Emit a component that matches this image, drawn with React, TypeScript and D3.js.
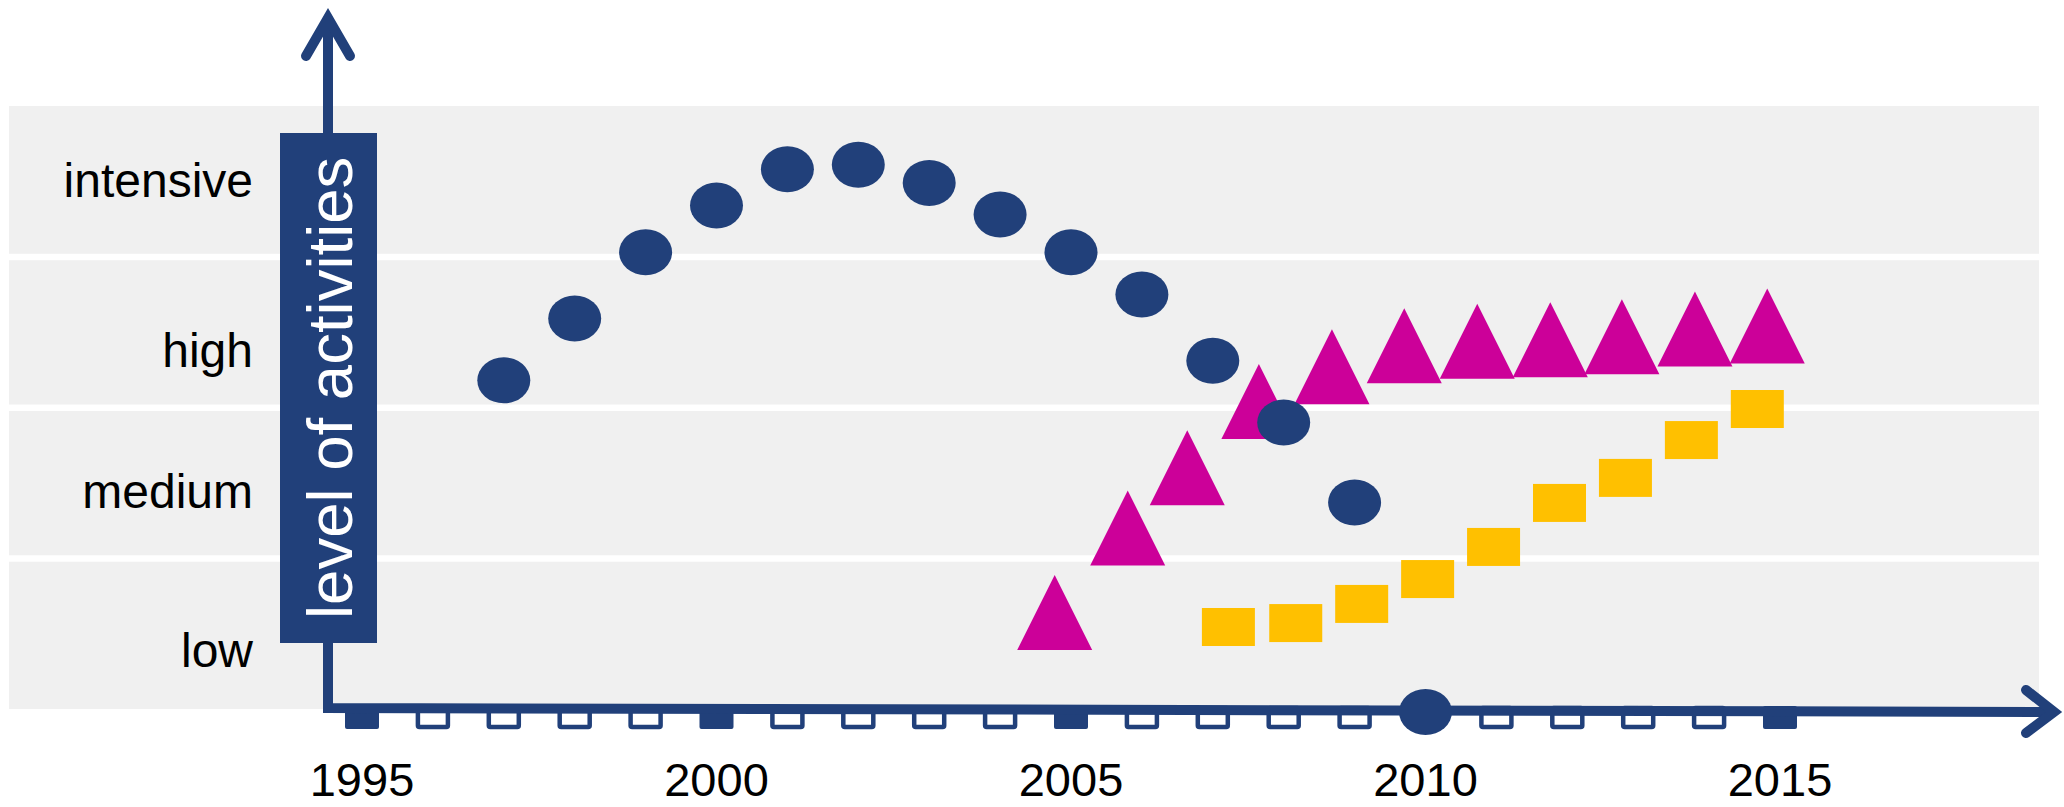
import React from "react";
import * as d3 from "d3";

// ---- data ----
const levelLabels = ["low", "medium", "high", "intensive"];
const yearTicks = [1995, 1996, 1997, 1998, 1999, 2000, 2001, 2002, 2003, 2004, 2005, 2006, 2007, 2008, 2009, 2010, 2011, 2012, 2013, 2014, 2015];
const majorYears = [1995, 2000, 2005, 2010, 2015];

const circleYears = [1997, 1998, 1999, 2000, 2001, 2002, 2003, 2004, 2005, 2006, 2007, 2008, 2009, 2010];
const circleValues = [2.18, 2.59, 3.03, 3.34, 3.58, 3.61, 3.49, 3.28, 3.03, 2.75, 2.31, 1.9, 1.37, -0.02];

const triangleYears = [2004.77, 2005.8, 2006.64, 2007.65, 2008.68, 2009.7, 2010.73, 2011.76, 2012.77, 2013.8, 2014.82];
const triangleValues = [0.64, 1.2, 1.6, 2.04, 2.27, 2.41, 2.44, 2.45, 2.47, 2.52, 2.54];

const squareYears = [2007.22, 2008.17, 2009.1, 2010.03, 2010.96, 2011.89, 2012.82, 2013.75, 2014.68];
const squareValues = [0.544, 0.57, 0.697, 0.862, 1.075, 1.367, 1.533, 1.784, 1.99];

const axisTitle = "level of activities";

// ---- layout / style ----
const W = 2064;
const H = 807;
const NAVY = "#21407A";
const MAGENTA = "#CC0099";
const YELLOW = "#FFC000";
const BAND = "#F0F0F0";
const FONT = "'Liberation Sans', Arial, sans-serif";
const labelDy = [33, 25, 35, 16];

export default function App() {
  const x = d3.scaleLinear().domain([1995, 2015]).range([362, 1780]);
  const y = d3.scaleLinear().domain([0, 4]).range([709, 106]);

  const bands = levelLabels.map((_, i) => {
    const top = y(i + 1) + (i === 3 ? 0 : 3.5);
    const bottom = y(i) - (i === 0 ? 0 : 3);
    return { top, bottom };
  });

  const axisX = 328;
  const axisY0 = 708;
  const axisY1 = 712;
  const axisEnd = 2054;

  const triSize = 75;
  const sqW = 53;
  const sqH = 38;

  return (
    <svg width={W} height={H} style={{ position: "absolute", left: 0, top: 0, display: "block" }}>
      <rect x={0} y={0} width={W} height={H} fill="#FFFFFF" />
      {/* bands */}
      {bands.map((b, i) => (
        <rect key={"b" + i} x={9} y={b.top} width={2039 - 9} height={b.bottom - b.top} fill={BAND} />
      ))}
      {/* category labels */}
      {levelLabels.map((l, i) => (
        <text
          key={"l" + i}
          x={253}
          y={y(i + 0.5) + labelDy[i]}
          textAnchor="end"
          fontFamily={FONT}
          fontSize={48}
          fill="#000"
        >
          {l}
        </text>
      ))}
      {/* ticks */}
      {yearTicks.map((yr) => {
        const cx = x(yr);
        const major = majorYears.includes(yr);
        return major ? (
          <rect key={"t" + yr} x={cx - 17} y={706} width={34} height={23} rx={2} fill={NAVY} />
        ) : (
          <rect key={"t" + yr} x={cx - 15} y={708} width={30} height={19} rx={1.5} fill="#FFFFFF" stroke={NAVY} strokeWidth={4.5} />
        );
      })}
      {/* axes */}
      <path
        d={`M${axisX},18 L${axisX},${axisY0} L${axisEnd},${axisY1}`}
        fill="none"
        stroke={NAVY}
        strokeWidth={10}
        strokeLinejoin="miter"
      />
      <polyline
        points={`${axisX - 22},56 ${axisX},18 ${axisX + 22},56`}
        fill="none"
        stroke={NAVY}
        strokeWidth={10}
        strokeLinecap="round"
        strokeLinejoin="miter"
      />
      <polyline
        points={`${axisEnd - 28},690 ${axisEnd},${axisY1} ${axisEnd - 28},733`}
        fill="none"
        stroke={NAVY}
        strokeWidth={10}
        strokeLinecap="round"
        strokeLinejoin="miter"
      />
      {/* axis title box */}
      <rect x={280} y={133} width={97} height={510} fill={NAVY} />
      <text
        transform="translate(352,619) rotate(-90)"
        fontFamily={FONT}
        fontSize={63.5}
        fill="#FFFFFF"
        textAnchor="start"
      >
        {axisTitle}
      </text>
      {/* year labels */}
      {majorYears.map((yr) => (
        <text key={"yl" + yr} x={x(yr)} y={796} textAnchor="middle" fontFamily={FONT} fontSize={47} fill="#000">
          {yr}
        </text>
      ))}
      {/* squares */}
      {squareYears.map((yr, i) => (
        <rect
          key={"s" + i}
          x={x(yr) - sqW / 2}
          y={y(squareValues[i]) - sqH / 2}
          width={sqW}
          height={sqH}
          fill={YELLOW}
        />
      ))}
      {/* triangles */}
      {triangleYears.map((yr, i) => {
        const cx = x(yr);
        const cy = y(triangleValues[i]);
        const h = triSize / 2;
        return (
          <polygon
            key={"tr" + i}
            points={`${cx},${cy - h} ${cx + h},${cy + h} ${cx - h},${cy + h}`}
            fill={MAGENTA}
          />
        );
      })}
      {/* circles */}
      {circleYears.map((yr, i) => (
        <ellipse key={"c" + i} cx={x(yr)} cy={y(circleValues[i])} rx={26.5} ry={23} fill={NAVY} />
      ))}
    </svg>
  );
}
